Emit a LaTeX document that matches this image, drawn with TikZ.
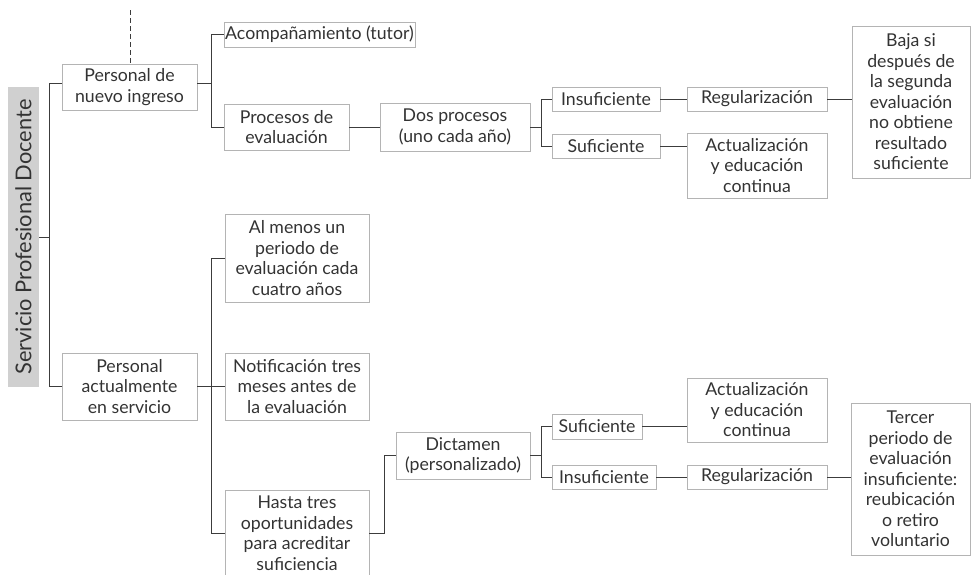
\documentclass[tikz,border=0pt]{standalone}
\usepackage{fontspec}
\setmainfont{Lato}
\definecolor{boxline}{HTML}{B4B4B4}
\definecolor{conline}{HTML}{3C3C3C}
\definecolor{txt}{HTML}{333333}
\definecolor{labelfill}{HTML}{D0D0D0}
\begin{document}
\begin{tikzpicture}[x=1pt,y=-1pt,
  bx/.style={draw=boxline, line width=0.9pt, inner sep=0pt, text=txt, align=center,
    font=\fontsize{17.7}{20.5}\selectfont},
  conn/.style={draw=conline, line width=0.9pt},
  lbl/.style={fill=labelfill, inner sep=0pt, text=txt, rotate=90,
    font=\fontsize{21.8}{24}\selectfont}]
\useasboundingbox (0,0) rectangle (972,574);
\clip (0,0) rectangle (972,574);
% label
\node[lbl, minimum width=300pt, minimum height=31pt] (sp) at (23.5,237) {Servicio Profesional Docente};
% first level
\node[bx, minimum width=135pt, minimum height=46pt] (pni) at (129.5,87) {Personal de\\nuevo ingreso};
\node[bx, minimum width=135pt, minimum height=67pt] (pas) at (129.5,386.5) {Personal\\actualmente\\en servicio};
% upper branch
\node[bx, minimum width=191pt, minimum height=25pt] (acomp) at (319.5,34.5) {Acompañamiento (tutor)};
\node[bx, minimum width=125pt, minimum height=46pt] (proc) at (286.5,127) {Procesos de\\evaluación};
\node[bx, minimum width=150pt, minimum height=48pt] (dos) at (455,127) {Dos procesos\\(uno cada año)};
\node[bx, minimum width=108pt, minimum height=24pt] (ins1) at (606,99) {Insuficiente};
\node[bx, minimum width=108pt, minimum height=24pt] (suf1) at (606,146) {Suficiente};
\node[bx, minimum width=140pt, minimum height=24pt] (reg1) at (757,99) {Regularización};
\node[bx, minimum width=140pt, minimum height=65pt] (act1) at (757,165.5) {Actualización\\y educación\\continua};
\node[bx, minimum width=118pt, minimum height=152pt] (baja) at (911,102) {Baja si\\después de\\la segunda\\evaluación\\no obtiene\\resultado\\suficiente};
% lower branch
\node[bx, minimum width=144pt, minimum height=88pt] (al) at (297,258) {Al menos un\\periodo de\\evaluación cada\\cuatro años};
\node[bx, minimum width=144pt, minimum height=67pt] (notif) at (297,386.5) {Notificación tres\\meses antes de\\la evaluación};
\node[bx, minimum width=144pt, minimum height=86pt] (hasta) at (297,533) {Hasta tres\\oportunidades\\para acreditar\\suficiencia};
\node[bx, minimum width=134pt, minimum height=47pt] (dict) at (463,455.5) {Dictamen\\(personalizado)};
\node[bx, minimum width=90pt, minimum height=25pt] (suf2) at (597,426.5) {Suficiente};
\node[bx, minimum width=104pt, minimum height=24pt] (ins2) at (604,477) {Insuficiente};
\node[bx, minimum width=140pt, minimum height=64pt] (act2) at (757,410) {Actualización\\y educación\\continua};
\node[bx, minimum width=140pt, minimum height=24pt] (reg2) at (757,477) {Regularización};
\node[bx, minimum width=119pt, minimum height=152pt] (terc) at (910.5,479) {Tercer\\periodo de\\evaluación\\insuficiente:\\reubicación\\o retiro\\voluntario};
% connectors
\coordinate (dtop) at (130,10);
\draw[conn, line width=0.7pt, dash pattern=on 5pt off 3pt] (dtop) -- (dtop |- pni.north);
\draw[conn] (sp.south) -- ++(11,0);
\draw[conn] ([yshift=4pt]pni.west) -- ++(-12,0) |- (pas.west);
\draw[conn] ([yshift=4pt]pni.east) -- ++(14,0) coordinate (f1);
\draw[conn] (f1) |- (acomp.west);
\draw[conn] (f1) |- (proc.west);
\draw[conn] (proc.east) -- (dos.west);
\draw[conn] (dos.east) -- ++(11,0) coordinate (f2);
\draw[conn] (f2) |- (ins1.west);
\draw[conn] (f2) |- (suf1.west);
\draw[conn] (ins1.east) -- (reg1.west);
\draw[conn] (suf1.east) -- (suf1.east -| act1.west);
\draw[conn] (reg1.east) -- (reg1.east -| baja.west);
\draw[conn] (pas.east) -- ++(14,0) coordinate (f3);
\draw[conn] (f3) |- (al.west);
\draw[conn] (f3) |- (hasta.west);
\draw[conn] (pas.east) -- (notif.west);
\draw[conn] (hasta.east) -- ++(15,0) |- (dict.west);
\draw[conn] (dict.east) -- ++(11,0) coordinate (f4);
\draw[conn] (f4) |- (suf2.west);
\draw[conn] (f4) |- (ins2.west);
\draw[conn] (suf2.east) -- (suf2.east -| act2.west);
\draw[conn] (ins2.east) -- (reg2.west);
\draw[conn] (reg2.east) -- (reg2.east -| terc.west);
\end{tikzpicture}
\end{document}
